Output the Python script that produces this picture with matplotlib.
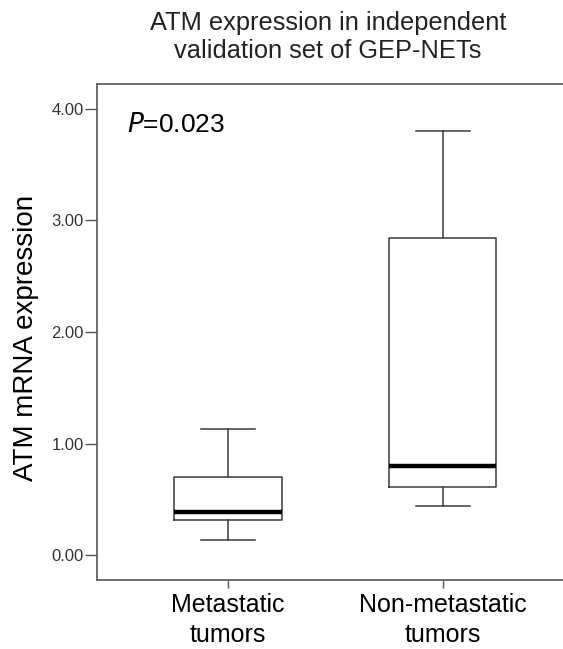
import matplotlib

matplotlib.use("Agg")
import matplotlib.pyplot as plt

GRUPOS = ["Metastatic\ntumors", "Non-metastatic\ntumors"]
BIGOTE_INF = [0.14, 0.44]
CUARTIL_1 = [0.32, 0.61]
MEDIANA = [0.39, 0.80]
CUARTIL_3 = [0.70, 2.84]
BIGOTE_SUP = [1.13, 3.80]

TICKS_Y = [0, 1, 2, 3, 4]
ETIQUETAS_Y = ["0.00", "1.00", "2.00", "3.00", "4.00"]

plt.rcParams["font.family"] = ["Liberation Sans", "DejaVu Sans"]

fig = plt.figure(figsize=(5.63, 6.49), dpi=100)
ax = fig.add_axes([97 / 563, (649 - 580) / 649, 1 - 97 / 563, (580 - 84) / 649])

stats = []
for i in range(len(GRUPOS)):
    stats.append(
        {
            "whislo": BIGOTE_INF[i],
            "q1": CUARTIL_1[i],
            "med": MEDIANA[i],
            "q3": CUARTIL_3[i],
            "whishi": BIGOTE_SUP[i],
            "fliers": [],
        }
    )

ax.bxp(
    stats,
    positions=[1, 2],
    widths=0.5,
    showfliers=False,
    boxprops=dict(color="#3a3a3a", linewidth=1.1),
    whiskerprops=dict(color="#3a3a3a", linewidth=1.1),
    capprops=dict(color="#3a3a3a", linewidth=1.1),
    medianprops=dict(color="black", linewidth=3.2, solid_capstyle="butt"),
    capwidths=0.25,
)

ax.set_xlim(0.39, 2.56)
ax.set_ylim(-0.22, 4.22)
ax.set_xticks([1, 2])
ax.set_xticklabels(GRUPOS, fontsize=18, linespacing=1.35)
ax.set_yticks(TICKS_Y)
ax.set_yticklabels(ETIQUETAS_Y, fontsize=12, color="#333333")
ax.tick_params(axis="y", length=8.5, width=1, color="#555555", pad=1)
ax.tick_params(axis="x", length=6, width=1, color="#555555", pad=3)

for lado in ["left", "top", "bottom"]:
    ax.spines[lado].set_color("#555555")
    ax.spines[lado].set_linewidth(1.2)
ax.spines["right"].set_visible(False)

fig.text(26 / 563, (649 - 338) / 649, "ATM mRNA expression", rotation=90,
         ha="center", va="center", fontsize=20)
ax.text(0.064, 0.918, r"$\it{P}$=0.023", transform=ax.transAxes, fontsize=19, va="center")
fig.text(
    328 / 563,
    (649 - 37) / 649,
    "ATM expression in independent\nvalidation set of GEP-NETs",
    ha="center",
    va="center",
    fontsize=18.3,
    linespacing=1.2,
    color="#222222",
)

fig.savefig("out.png", dpi=100)
